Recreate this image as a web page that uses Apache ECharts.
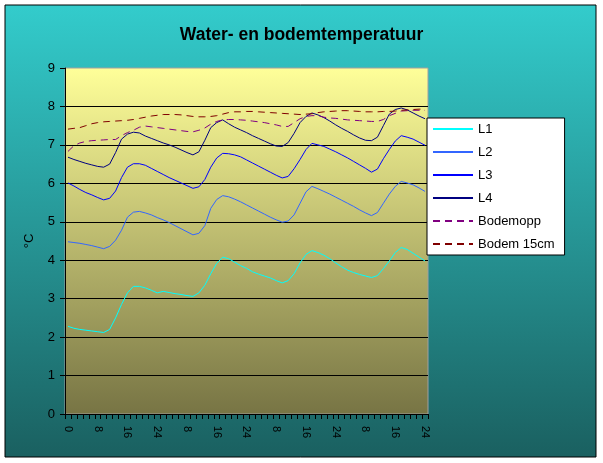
<!DOCTYPE html>
<html>
<head>
<meta charset="utf-8">
<script src="https://cdn.jsdelivr.net/npm/echarts@6/dist/echarts.min.js"></script>
<style>
html,body{margin:0;padding:0;background:#fff;}
#chart{width:603px;height:463px;}
</style>
</head>
<body>
<div id="chart"></div>
<script type="text/javascript">
// labels under the x axis, one per 5 measurements (every 8 hours)
var tickLabels = ['0','8','16','24','8','16','24','8','16','24','8','16','24'];
var pointsPerLabel = 5;

var L1 = [2.28,2.23,2.20,2.18,2.16,2.14,2.12,2.20,2.50,2.85,3.15,3.32,3.32,3.28,3.22,3.15,3.19,3.16,3.13,3.11,
          3.08,3.06,3.15,3.35,3.65,3.92,4.08,4.04,3.95,3.86,3.79,3.70,3.64,3.59,3.54,3.47,3.41,3.47,3.65,3.93,
          4.15,4.25,4.20,4.13,4.04,3.93,3.83,3.74,3.68,3.63,3.59,3.55,3.60,3.78,3.98,4.20,4.33,4.28,4.18,4.08,3.98];
var L2 = [4.48,4.46,4.44,4.41,4.38,4.34,4.30,4.36,4.52,4.78,5.12,5.25,5.27,5.23,5.18,5.11,5.05,4.98,4.90,4.82,
          4.74,4.66,4.70,4.90,5.35,5.58,5.68,5.65,5.59,5.52,5.44,5.36,5.28,5.20,5.12,5.05,4.99,5.02,5.18,5.48,
          5.78,5.92,5.86,5.79,5.72,5.64,5.56,5.48,5.40,5.31,5.23,5.16,5.24,5.48,5.72,5.92,6.05,6.01,5.96,5.88,5.79];
var L3 = [6.01,5.93,5.84,5.76,5.70,5.63,5.57,5.61,5.80,6.15,6.42,6.51,6.51,6.47,6.39,6.31,6.23,6.15,6.08,6.01,
          5.94,5.87,5.91,6.10,6.42,6.66,6.78,6.77,6.74,6.69,6.61,6.53,6.45,6.37,6.29,6.21,6.14,6.18,6.38,6.62,
          6.88,7.04,7.00,6.96,6.89,6.82,6.74,6.66,6.57,6.48,6.39,6.29,6.37,6.64,6.88,7.10,7.24,7.20,7.15,7.07,6.99];
var L4 = [6.68,6.62,6.57,6.52,6.48,6.44,6.42,6.50,6.80,7.15,7.28,7.33,7.31,7.23,7.17,7.11,7.05,7.00,6.94,6.87,
          6.80,6.74,6.82,7.12,7.45,7.58,7.65,7.55,7.46,7.39,7.32,7.24,7.17,7.10,7.03,6.97,6.96,7.06,7.30,7.58,
          7.74,7.83,7.78,7.71,7.62,7.52,7.43,7.35,7.26,7.18,7.12,7.11,7.20,7.50,7.80,7.92,7.96,7.91,7.83,7.75,7.68];
var bodemOpp = [6.83,6.98,7.05,7.09,7.11,7.12,7.13,7.14,7.14,7.24,7.32,7.38,7.46,7.49,7.47,7.45,7.43,7.41,7.39,7.37,
          7.35,7.34,7.38,7.44,7.54,7.61,7.65,7.66,7.66,7.65,7.64,7.62,7.60,7.58,7.55,7.52,7.48,7.48,7.58,7.68,
          7.74,7.76,7.76,7.72,7.70,7.69,7.67,7.65,7.64,7.63,7.62,7.61,7.61,7.66,7.76,7.82,7.88,7.89,7.90,7.90,7.90];
var bodem15 = [7.41,7.43,7.45,7.50,7.55,7.58,7.60,7.61,7.62,7.63,7.64,7.66,7.69,7.72,7.75,7.77,7.79,7.79,7.79,7.78,
          7.76,7.74,7.73,7.73,7.74,7.76,7.80,7.84,7.86,7.86,7.87,7.87,7.86,7.85,7.84,7.83,7.82,7.81,7.80,7.79,
          7.80,7.81,7.84,7.86,7.87,7.88,7.89,7.89,7.88,7.87,7.86,7.86,7.86,7.87,7.87,7.88,7.90,7.91,7.92,7.93,7.93];

var yTicks = [0,1,2,3,4,5,6,7,8,9];

// one category per measurement
var categories = [];
for (var i = 0; i < L1.length; i++) {
    categories.push(String(i));
}

var font = 'Liberation Sans, Arial, sans-serif';

var myChart = echarts.init(document.getElementById('chart'), null, {renderer:'canvas'});

function line(name, data, color, dashed){
    return {
        name:name,
        type:'line',
        data:data,
        symbol:'none',
        smooth:false,
        lineStyle:{
            width:1,
            color:color,
            type: dashed ? [7,5] : 'solid'
        },
        // opacity 0 hides the dot the legend would draw on the line icon
        itemStyle:{color:color, opacity:0},
        emphasis:{disabled:true}
    };
}

var option = {
    animation:false,
    backgroundColor:'#fff',
    graphic:[{
        type:'rect',
        z:-10,
        silent:true,
        shape:{x:5, y:5, width:591, height:452},
        style:{
            fill:new echarts.graphic.LinearGradient(0,0,0,1,[
                {offset:0, color:'#33cccc'},
                {offset:1, color:'#1a6060'}
            ]),
            stroke:'#000',
            lineWidth:1
        }
    }],
    title:{
        text:'Water- en bodemtemperatuur',
        left:'center',
        top:21,
        textStyle:{fontFamily:font, fontSize:17.5, fontWeight:'bold', color:'#000'}
    },
    legend:{
        orient:'vertical',
        left:427,
        top:118,
        width:138,
        backgroundColor:'#fff',
        borderColor:'#000',
        borderWidth:1,
        borderRadius:0,
        padding:[4,10,4,5],
        itemWidth:40,
        itemHeight:14,
        itemGap:9,
        textStyle:{fontFamily:font, fontSize:13, color:'#000', lineHeight:14},
        data:['L1','L2','L3','L4','Bodemopp','Bodem 15cm']
    },
    grid:{
        left:65,
        right:175,
        top:68,
        bottom:49,
        show:true,
        borderColor:'#a0a0a0',
        borderWidth:1,
        backgroundColor:new echarts.graphic.LinearGradient(0,0,0,1,[
            {offset:0, color:'#ffff99'},
            {offset:1, color:'#777444'}
        ])
    },
    xAxis:{
        type:'category',
        boundaryGap:true,
        data:categories,
        axisLine:{show:true, lineStyle:{color:'#000', width:1}},
        axisTick:{show:true, interval:0, length:5, lineStyle:{color:'#000'}},
        axisLabel:{
            interval:pointsPerLabel-1,
            rotate:-90,
            margin:12,
            fontFamily:font,
            fontSize:11,
            color:'#000',
            formatter:function(value, index){
                return tickLabels[Math.round(index/pointsPerLabel)];
            }
        },
        splitLine:{show:false}
    },
    yAxis:{
        type:'value',
        min:yTicks[0],
        max:yTicks[yTicks.length-1],
        interval:1,
        name:'°C',
        nameLocation:'middle',
        nameRotate:90,
        nameGap:29,
        nameTextStyle:{fontFamily:font, fontSize:13, color:'#000'},
        axisLine:{show:true, lineStyle:{color:'#000', width:1}},
        axisTick:{show:true, length:5, lineStyle:{color:'#000'}},
        axisLabel:{fontFamily:font, fontSize:13, color:'#000', margin:10},
        splitLine:{show:true, showMaxLine:false, lineStyle:{color:'#000', width:1}}
    },
    series:[
        line('L1', L1, '#00ffff', false),
        line('L2', L2, '#3366ff', false),
        line('L3', L3, '#0000ff', false),
        line('L4', L4, '#000080', false),
        line('Bodemopp', bodemOpp, '#800080', true),
        line('Bodem 15cm', bodem15, '#800000', true)
    ]
};
myChart.setOption(option);
</script>
</body>
</html>
